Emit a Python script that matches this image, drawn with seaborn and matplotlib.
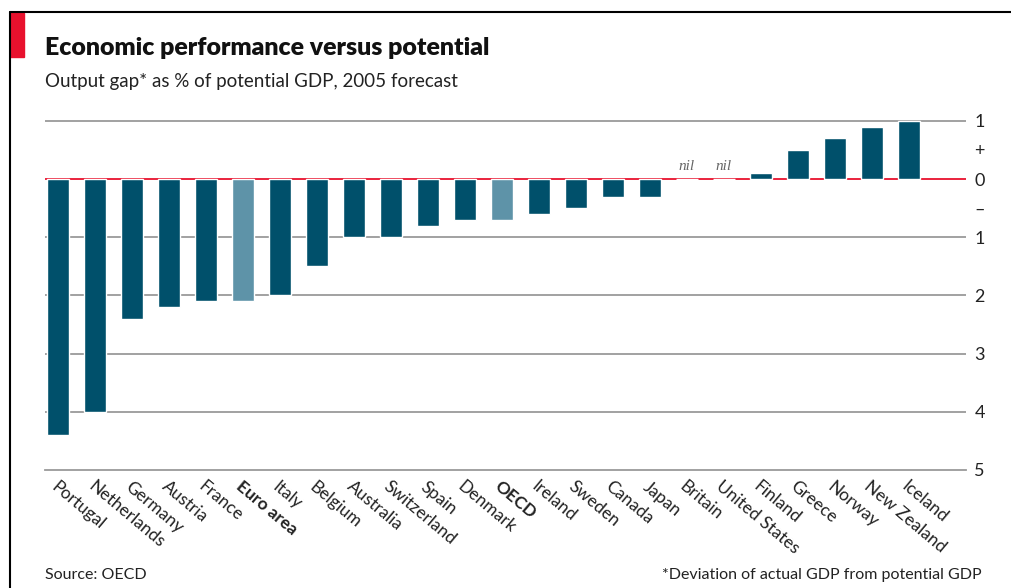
import matplotlib
matplotlib.use("Agg")
import matplotlib.pyplot as plt
import seaborn as sns
import pandas as pd
from matplotlib.lines import Line2D
from matplotlib.patches import Rectangle

# data
countries = ["Portugal", "Netherlands", "Germany", "Austria", "France", "Euro area",
             "Italy", "Belgium", "Australia", "Switzerland", "Spain", "Denmark",
             "OECD", "Ireland", "Sweden", "Canada", "Japan", "Britain",
             "United States", "Finland", "Greece", "Norway", "New Zealand", "Iceland"]
output_gap = [-4.4, -4.0, -2.4, -2.2, -2.1, -2.1, -2.0, -1.5, -1.0, -1.0, -0.8, -0.7,
              -0.7, -0.6, -0.5, -0.3, -0.3, 0.0, 0.0, 0.1, 0.5, 0.7, 0.9, 1.0]
aggregates = ["Euro area", "OECD"]
nil_countries = ["Britain", "United States"]
ytick_vals = [1, 0.5, 0, -0.5, -1, -2, -3, -4, -5]
ytick_text = ["1", "+", "0", "\u2013", "1", "2", "3", "4", "5"]

DARK = "#00506b"
LIGHT = "#5e93a8"
RED = "#e8112d"
GREY = "#9a9a9a"

df = pd.DataFrame({"country": countries, "gap": output_gap})
colors = [LIGHT if c in aggregates else DARK for c in countries]

sns.set_theme(style="white")
plt.rcParams["font.family"] = ["Lato", "DejaVu Sans"]

W, H = 1011, 588
fig = plt.figure(figsize=(W / 100, H / 100), dpi=100)
ax = fig.add_axes([45 / W, 1 - 470 / H, (966 - 45) / W, (470 - 118) / H])

sns.barplot(data=df, x="country", y="gap", hue="country", palette=colors,
            legend=False, width=0.6, saturation=1, ax=ax, zorder=3)

for v in [1, -1, -2, -3, -4]:
    ax.axhline(v, color=GREY, lw=1.3, zorder=1)
ax.axhline(0, color=RED, lw=1.3, zorder=2)

ax.set_xlim(-0.36, 24.55)
ax.set_ylim(-5, 1.05)

for s in ["top", "left", "right"]:
    ax.spines[s].set_visible(False)
ax.spines["bottom"].set_color(GREY)
ax.spines["bottom"].set_linewidth(1.3)

ax.yaxis.tick_right()
ax.set_yticks(ytick_vals)
ax.set_yticklabels(ytick_text, fontsize=13, color="#222222")
ax.tick_params(axis="y", length=0, pad=6)

ax.set_xticks(range(len(countries)))
ax.set_xticklabels(countries, rotation=-40, ha="left", va="top",
                   rotation_mode="anchor", fontsize=12.5, color="#222222")
ax.tick_params(axis="x", direction="in", length=5, width=1, color=GREY, pad=6)
for lab in ax.get_xticklabels():
    if lab.get_text() in aggregates:
        lab.set_fontweight("bold")
ax.set_xlabel("")
ax.set_ylabel("")

for c in nil_countries:
    i = countries.index(c)
    ax.text(i, 0.1, "nil", ha="center", va="bottom", fontsize=11, style="italic",
            family="Liberation Serif", color="#666666")

# frame and title block
fig.add_artist(Line2D([10 / W, 10 / W], [0, 1 - 12 / H], color="black", lw=1.5,
                      transform=fig.transFigure))
fig.add_artist(Line2D([10 / W, 1], [1 - 12 / H, 1 - 12 / H], color="black", lw=1.5,
                      transform=fig.transFigure))
fig.add_artist(Rectangle((10 / W, 1 - 57 / H), 14 / W, 44 / H, color=RED,
                         transform=fig.transFigure))

fig.text(45 / W, 1 - 48 / H, "Economic performance versus potential",
         fontsize=17.9, fontweight="heavy", color="#111111", va="center")
fig.text(45 / W, 1 - 82 / H, "Output gap* as % of potential GDP, 2005 forecast",
         fontsize=13.5, color="#222222", va="center")
fig.text(45 / W, 1 - 575 / H, "Source: OECD", fontsize=11.5, color="#222222",
         va="center")
fig.text(982 / W, 1 - 575 / H, "*Deviation of actual GDP from potential GDP",
         fontsize=11.5, color="#222222", va="center", ha="right")

fig.savefig("out.png", dpi=100)
